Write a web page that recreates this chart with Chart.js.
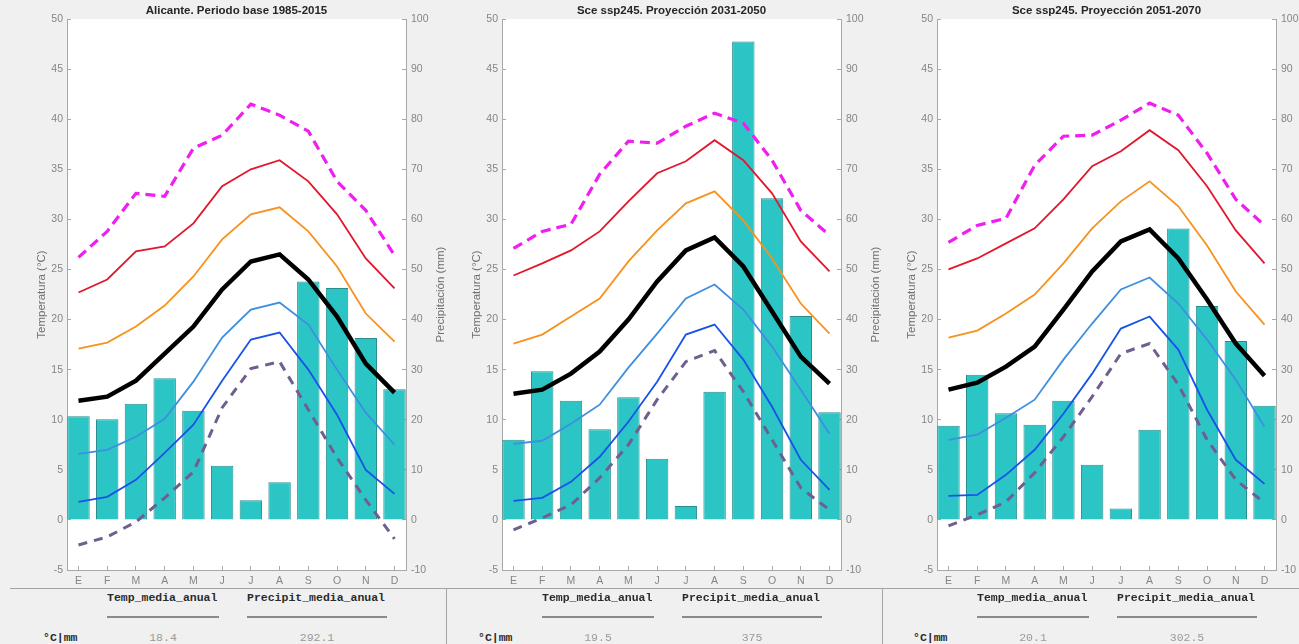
<!DOCTYPE html>
<html lang="es">
<head>
<meta charset="utf-8">
<title>Climogramas Alicante</title>
<script src="https://cdn.jsdelivr.net/npm/chart.js@4.4.1/dist/chart.umd.min.js"></script>
<style>
  html, body { margin: 0; padding: 0; }
  body {
    width: 1299px; height: 644px; overflow: hidden; position: relative;
    background: #f0f0f0; font-family: "Liberation Sans", Arial, sans-serif;
  }
  .panel { position: absolute; top: 0; width: 460px; height: 588px; }
  .rule { position: absolute; background: #a3a3a3; }
  .tbl {
    position: absolute; height: 14px; line-height: 14px; white-space: nowrap;
    font-family: "Liberation Mono", "DejaVu Sans Mono", monospace; font-size: 11.5px;
  }
  .hdr { font-weight: bold; color: #2b2b2b; }
  .val { color: #9a9a9a; text-align: center; }
  .bar { position: absolute; height: 2px; background: #8a8a8a; }
</style>
</head>
<body>
<canvas id="c0" class="panel" width="460" height="588" style="left:0px"></canvas>
<canvas id="c1" class="panel" width="460" height="588" style="left:435px"></canvas>
<canvas id="c2" class="panel" width="460" height="588" style="left:870px"></canvas>
<div id="table"></div>
<script>
const MONTHS = ["E", "F", "M", "A", "M", "J", "J", "A", "S", "O", "N", "D"];
const MONTH_POS = [1, 2, 3, 4, 5, 6, 7, 8, 9, 10, 11, 12];

const TITLES = [
  "Alicante. Periodo base 1985-2015",
  "Sce ssp245. Proyección 2031-2050",
  "Sce ssp245. Proyección 2051-2070",
];
const TEMP_ANUAL = ["18.4", "19.5", "20.1"];
const PREC_ANUAL = ["292.1", "375", "302.5"];

// Periodo base 1985-2015 (°C, mm)
const BASE_TMAX_ABS = [26.2, 28.8, 32.6, 32.3, 37.1, 38.4, 41.5, 40.4, 38.8, 33.8, 30.9, 26.4];
const BASE_TMAX_EXT = [22.7, 24.0, 26.8, 27.3, 29.6, 33.3, 35.0, 35.9, 33.8, 30.5, 26.1, 23.1];
const BASE_TMAX = [17.1, 17.7, 19.3, 21.4, 24.3, 28.0, 30.5, 31.2, 28.8, 25.3, 20.6, 17.8];
const BASE_TMED = [11.9, 12.3, 13.9, 16.6, 19.3, 23.0, 25.8, 26.5, 24.0, 20.3, 15.6, 12.7];
const BASE_TMIN = [6.6, 7.0, 8.3, 10.1, 13.8, 18.2, 21.0, 21.7, 19.5, 15.0, 10.7, 7.5];
const BASE_TMIN_EXT = [1.8, 2.3, 4.0, 6.7, 9.5, 13.9, 18.0, 18.7, 15.0, 10.5, 5.0, 2.6];
const BASE_TMIN_ABS = [-2.5, -1.7, -0.2, 2.2, 4.8, 11.2, 15.1, 15.8, 11.0, 6.2, 2.0, -1.9];
const BASE_PREC = [20.7, 20.1, 23.2, 28.3, 21.8, 10.8, 3.9, 7.5, 47.6, 46.3, 36.3, 26.1];

// ssp245 2031-2050
const P2050_TMAX_ABS = [27.1, 28.8, 29.5, 34.5, 37.8, 37.6, 39.3, 40.6, 39.6, 35.9, 30.9, 28.4];
const P2050_TMAX_EXT = [24.4, 25.6, 26.9, 28.8, 31.8, 34.6, 35.8, 37.9, 35.9, 32.6, 27.8, 24.8];
const P2050_TMAX = [17.6, 18.5, 20.3, 22.1, 25.8, 28.9, 31.6, 32.8, 29.9, 26.1, 21.6, 18.6];
const P2050_TMED = [12.6, 13.0, 14.6, 16.8, 20.0, 23.8, 26.9, 28.2, 25.3, 20.8, 16.3, 13.6];
const P2050_TMIN = [7.6, 7.9, 9.6, 11.5, 15.2, 18.6, 22.1, 23.5, 21.0, 17.3, 13.0, 8.6];
const P2050_TMIN_EXT = [1.9, 2.2, 3.8, 6.3, 9.8, 13.8, 18.5, 19.5, 16.0, 11.3, 6.0, 3.0];
const P2050_TMIN_ABS = [-1.0, 0.2, 1.5, 4.2, 7.5, 12.0, 15.8, 16.9, 12.8, 8.0, 3.2, 1.0];
const P2050_PREC = [16.0, 29.7, 23.8, 18.1, 24.5, 12.2, 2.8, 25.6, 95.5, 64.2, 40.7, 21.5];

// ssp245 2051-2070
const P2070_TMAX_ABS = [27.7, 29.4, 30.1, 35.4, 38.3, 38.4, 39.9, 41.6, 40.4, 36.6, 32.0, 29.4];
const P2070_TMAX_EXT = [25.0, 26.1, 27.6, 29.1, 32.0, 35.3, 36.8, 38.9, 36.9, 33.3, 28.9, 25.6];
const P2070_TMAX = [18.2, 18.9, 20.6, 22.5, 25.6, 29.1, 31.8, 33.8, 31.3, 27.4, 22.8, 19.5];
const P2070_TMED = [13.0, 13.7, 15.3, 17.3, 21.0, 24.8, 27.8, 29.0, 26.1, 22.0, 17.6, 14.4];
const P2070_TMIN = [8.0, 8.5, 10.2, 12.0, 16.0, 19.6, 23.0, 24.2, 21.6, 18.0, 14.0, 9.3];
const P2070_TMIN_EXT = [2.4, 2.5, 4.5, 7.0, 10.6, 14.6, 19.1, 20.3, 17.0, 11.0, 6.0, 3.6];
const P2070_TMIN_ABS = [-0.6, 0.5, 1.8, 4.7, 8.3, 12.3, 16.6, 17.6, 13.5, 8.0, 4.0, 1.7];
const P2070_PREC = [18.8, 29.0, 21.3, 19.0, 23.8, 11.0, 2.3, 18.0, 58.2, 42.7, 35.7, 22.8];

const PANELS = [
  { tmaxAbs: BASE_TMAX_ABS, tmaxExt: BASE_TMAX_EXT, tmax: BASE_TMAX, tmed: BASE_TMED,
    tmin: BASE_TMIN, tminExt: BASE_TMIN_EXT, tminAbs: BASE_TMIN_ABS, prec: BASE_PREC },
  { tmaxAbs: P2050_TMAX_ABS, tmaxExt: P2050_TMAX_EXT, tmax: P2050_TMAX, tmed: P2050_TMED,
    tmin: P2050_TMIN, tminExt: P2050_TMIN_EXT, tminAbs: P2050_TMIN_ABS, prec: P2050_PREC },
  { tmaxAbs: P2070_TMAX_ABS, tmaxExt: P2070_TMAX_EXT, tmax: P2070_TMAX, tmed: P2070_TMED,
    tmin: P2070_TMIN, tminExt: P2070_TMIN_EXT, tminAbs: P2070_TMIN_ABS, prec: P2070_PREC },
];

const PANEL_LEFT = [0, 435, 870];
const SANS = '"Liberation Sans", Arial, sans-serif';
const TICK_GRAY = "#858585";
const TITLE_GRAY = "#707070";
const AXIS_GRAY = "#a8a8a8";

const el = (id) => document.getElementById(id);

// white plot box + right-hand axis label (MATLAB writes it bottom-to-top)
const plotFrame = {
  id: "plotFrame",
  beforeDraw(chart) {
    const { ctx, chartArea: a } = chart;
    ctx.save();
    ctx.fillStyle = "#ffffff";
    ctx.fillRect(a.left, a.top, a.right - a.left, a.bottom - a.top);
    ctx.restore();
  },
  afterDraw(chart, args, opts) {
    const { ctx, chartArea: a } = chart;
    ctx.save();
    ctx.translate(a.right + opts.offset, (a.top + a.bottom) / 2);
    ctx.rotate(-Math.PI / 2);
    ctx.font = `11.5px ${SANS}`;
    ctx.fillStyle = opts.color;
    ctx.textAlign = "center";
    ctx.textBaseline = "middle";
    ctx.fillText(opts.text, 0, 0);
    ctx.restore();
  },
};

function lineSet(data, color, width, dash, order = 0) {
  return {
    type: "line",
    data,
    yAxisID: "y",
    borderColor: color,
    borderWidth: width,
    borderDash: dash || [],
    pointRadius: 0,
    tension: 0,
    fill: false,
    order,
  };
}

function axisGrid() {
  return { display: true, drawOnChartArea: false, drawTicks: true, tickLength: -4, color: AXIS_GRAY, offset: false };
}

function buildPanel(idx) {
  const p = PANELS[idx];
  const tickFont = { family: SANS, size: 10.5 };

  return new Chart(el(`c${idx}`), {
    type: "bar",
    data: {
      labels: MONTH_POS,
      datasets: [
        lineSet(p.tmed, "#000000", 4.5, null, -1),
        lineSet(p.tmaxAbs, "#f01ef0", 3.2, [10, 6]),
        lineSet(p.tmaxExt, "#e2162c", 1.8),
        lineSet(p.tmax, "#f7921e", 1.8),
        lineSet(p.tmin, "#3d8fe0", 1.8),
        lineSet(p.tminExt, "#1753e8", 1.8),
        lineSet(p.tminAbs, "#6f5f8f", 3, [9, 7]),
        {
          type: "bar",
          data: p.prec,
          yAxisID: "y1",
          backgroundColor: "#2cc5c5",
          borderColor: "#2a8c8c",
          borderWidth: 1,
          categoryPercentage: 1,
          barPercentage: 0.78,
          order: 1,
        },
      ],
    },
    options: {
      responsive: false,
      devicePixelRatio: 1,
      animation: false,
      layout: { padding: 0 },
      plugins: {
        legend: { display: false },
        tooltip: { enabled: false },
        title: {
          display: true,
          fullSize: false,
          text: TITLES[idx],
          color: "#262626",
          font: { family: SANS, size: 11.5, weight: "bold" },
          padding: { top: 4, bottom: 1.2 },
        },
        plotFrame: { text: "Precipitación (mm)", offset: 35, color: TITLE_GRAY },
      },
      scales: {
        x: {
          type: "linear",
          min: 0.6,
          max: 12.4,
          offset: false,
          afterBuildTicks: (scale) => { scale.ticks = MONTH_POS.map((v) => ({ value: v })); },
          afterFit: (scale) => { scale.height = 18; },
          grid: axisGrid(),
          border: { display: true, color: AXIS_GRAY },
          ticks: {
            padding: 9,
            color: TICK_GRAY,
            font: tickFont,
            autoSkip: false,
            maxRotation: 0,
            callback: (value) => MONTHS[value - 1] ?? "",
          },
        },
        y: {
          position: "left",
          min: -5,
          max: 50,
          afterFit: (scale) => { scale.width = 67; },
          grid: axisGrid(),
          border: { display: true, color: AXIS_GRAY },
          ticks: { stepSize: 5, padding: 8, color: TICK_GRAY, font: tickFont },
          title: {
            display: true,
            text: "Temperatura (°C)",
            color: TITLE_GRAY,
            font: { family: SANS, size: 11.5 },
            padding: { top: 35, bottom: 0 },
          },
        },
        y1: {
          position: "right",
          min: -10,
          max: 100,
          afterFit: (scale) => { scale.width = 54; },
          grid: axisGrid(),
          border: { display: true, color: AXIS_GRAY },
          ticks: { stepSize: 10, padding: 9, color: TICK_GRAY, font: tickFont },
        },
      },
    },
    plugins: [plotFrame],
  });
}

function addBox(cls, text, left, top, width, height) {
  const d = document.createElement("div");
  d.className = cls;
  if (text !== null) d.textContent = text;
  d.style.left = `${left}px`;
  d.style.top = `${top}px`;
  if (width) d.style.width = `${width}px`;
  if (height) d.style.height = `${height}px`;
  el("table").appendChild(d);
}

function buildTable() {
  addBox("rule", null, 10, 588, 1289, 1);
  addBox("rule", null, 446, 588, 1, 56);
  addBox("rule", null, 882, 588, 1, 56);

  PANEL_LEFT.forEach((ox, i) => {
    addBox("tbl hdr", "Temp_media_anual", ox + 107, 591);
    addBox("tbl hdr", "Precipit_media_anual", ox + 247, 591);
    addBox("bar", null, ox + 107, 616, 112, 2);
    addBox("bar", null, ox + 247, 616, 140, 2);
    addBox("tbl hdr", "°C|mm", ox + 43, 631);
    addBox("tbl val", TEMP_ANUAL[i], ox + 107, 631, 112);
    addBox("tbl val", PREC_ANUAL[i], ox + 247, 631, 140);
  });
}

PANELS.forEach((_, i) => buildPanel(i));
buildTable();
</script>
</body>
</html>
